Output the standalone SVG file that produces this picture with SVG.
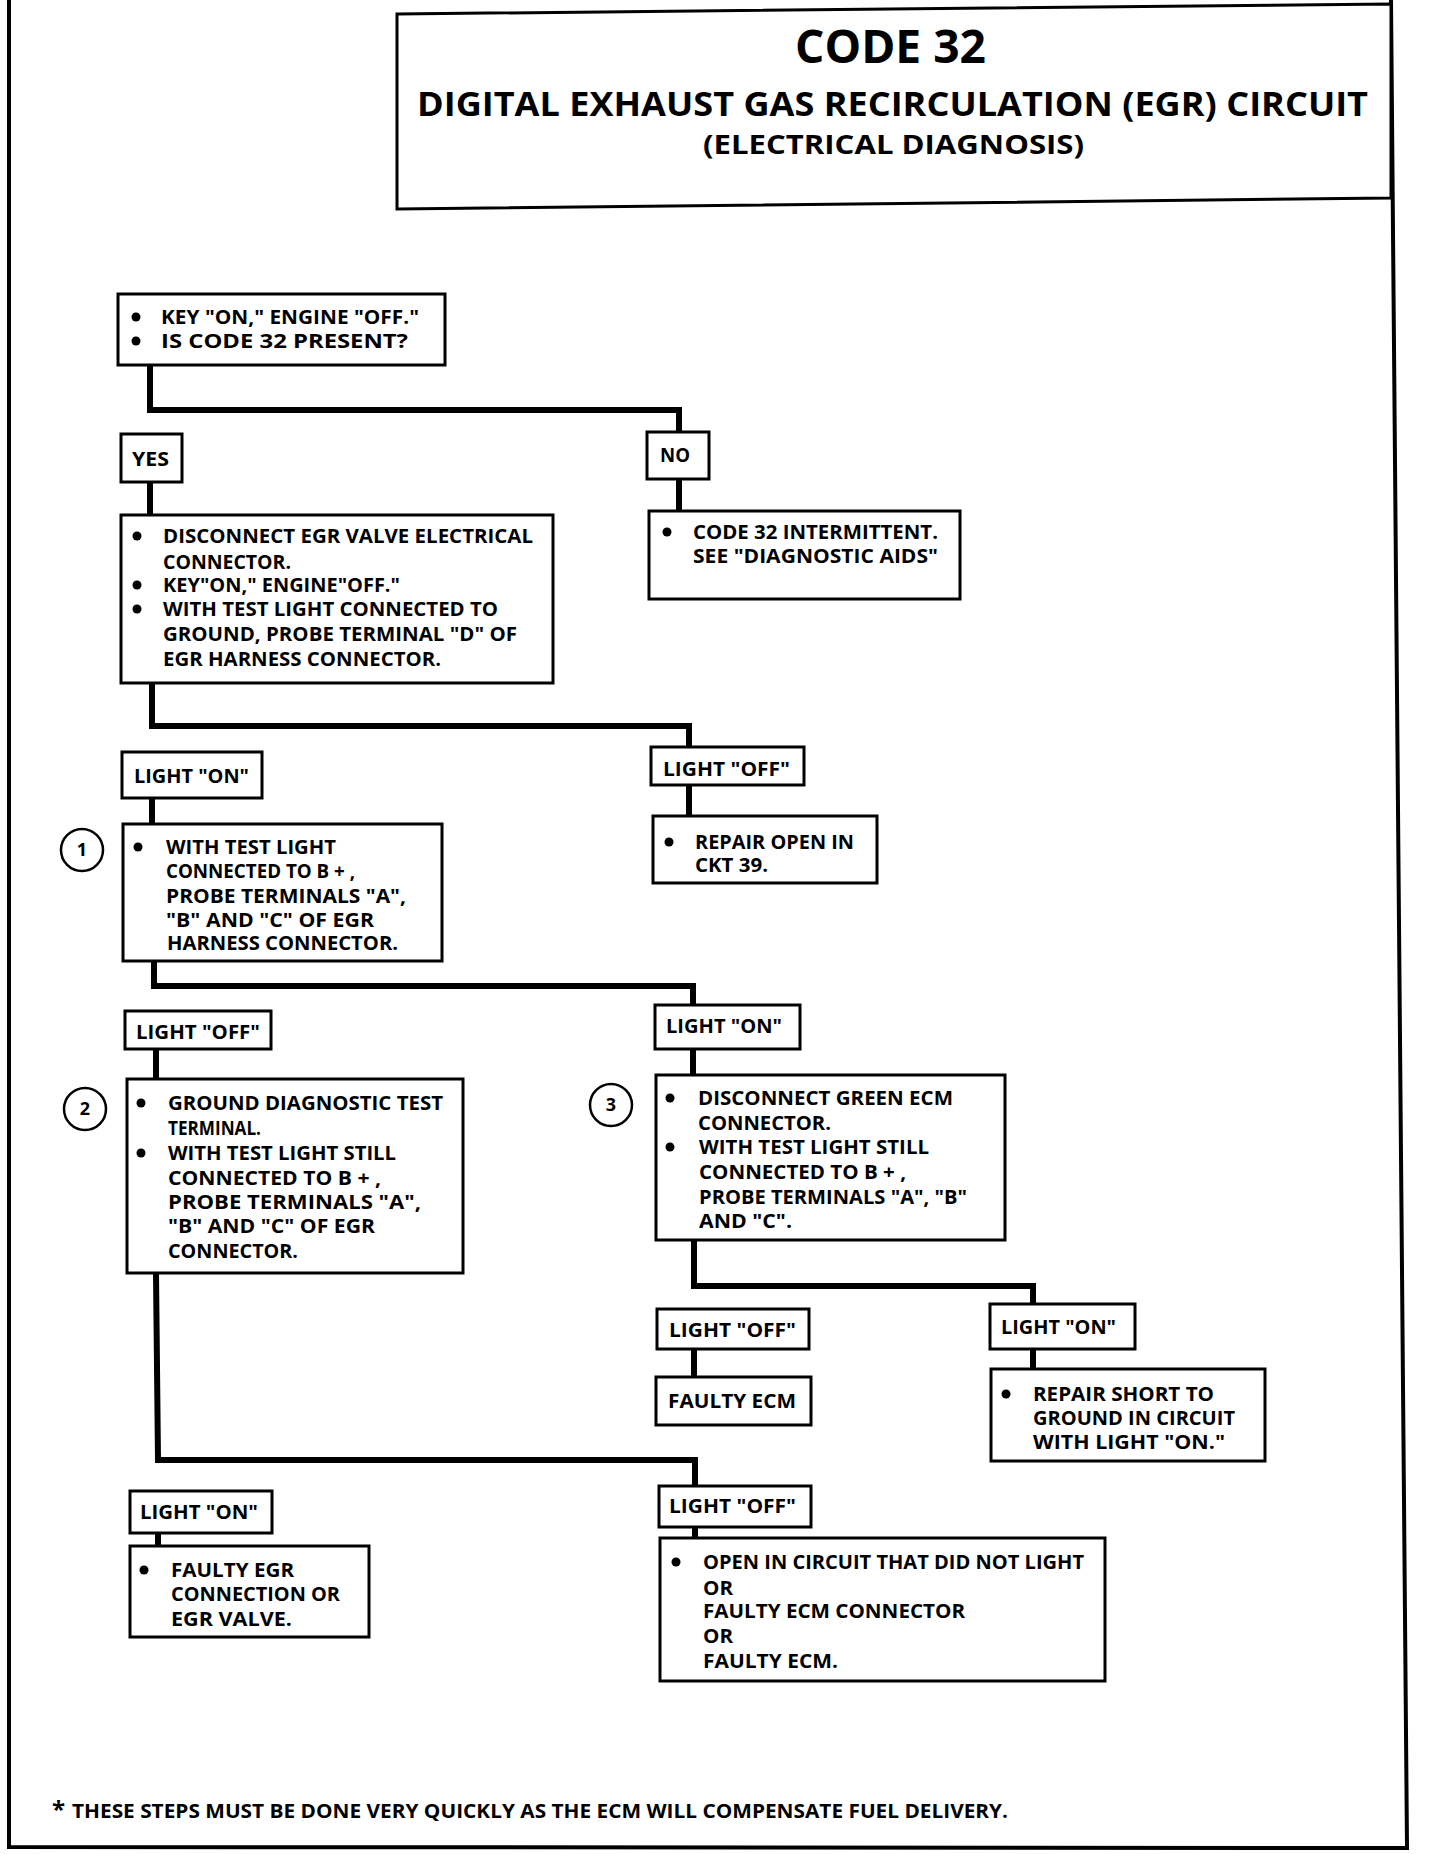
<svg xmlns="http://www.w3.org/2000/svg" width="1440" height="1854" viewBox="0 0 1440 1854">
<style>
  .box{fill:#fff;stroke:#000;stroke-width:3}
  .wire{fill:none;stroke:#000;stroke-width:6;stroke-linecap:square}
  .t{font-family:"Open Sans","Liberation Sans",sans-serif;font-weight:700;font-size:19px;fill:#000}
  .num{font-family:"Open Sans","Liberation Sans",sans-serif;font-weight:700;font-size:18px;fill:#000;text-anchor:middle}
  .ttl{font-family:"Open Sans","Liberation Sans",sans-serif;font-weight:700;fill:#000}
  .ring{fill:#fff;stroke:#000;stroke-width:2.5}
</style>
<defs>
  <circle id="dot" r="4.5" fill="#000"/>
</defs>
<rect x="0" y="0" width="1440" height="1854" fill="#fff"/>

<g id="frame">
  <path d="M9 0 L9 1847 L1407 1848 L1391 0" fill="none" stroke="#000" stroke-width="4"/>
</g>

<g id="title">
  <polygon points="397,14 1391,4 1391,198 397,209" fill="#fff" stroke="#000" stroke-width="3"/>
  <text class="ttl" x="795" y="63" font-size="46" textLength="191" lengthAdjust="spacingAndGlyphs">CODE 32</text>
  <text class="ttl" x="417" y="116" font-size="34" textLength="951" lengthAdjust="spacingAndGlyphs">DIGITAL EXHAUST GAS RECIRCULATION (EGR) CIRCUIT</text>
  <text class="ttl" x="703" y="154" font-size="26" textLength="381" lengthAdjust="spacingAndGlyphs">(ELECTRICAL DIAGNOSIS)</text>
</g>

<g id="connectors">
  <path class="wire" d="M150 365 V410 H679 V432"/>
  <path class="wire" d="M150 482 V515"/>
  <path class="wire" d="M679 479 V511"/>
  <path class="wire" d="M152 683 V726 H689 V747"/>
  <path class="wire" d="M689 785 V816"/>
  <path class="wire" d="M152 798 V824"/>
  <path class="wire" d="M154 961 V986 H693 V1005"/>
  <path class="wire" d="M156 1049 V1079"/>
  <path class="wire" d="M693 1049 V1075"/>
  <path class="wire" d="M694 1240 V1286 H1033 V1304"/>
  <path class="wire" d="M694 1349 V1377"/>
  <path class="wire" d="M1033 1349 V1369"/>
  <path class="wire" d="M156 1273 L158 1460 H695 V1486"/>
  <path class="wire" d="M158 1533 V1546"/>
  <path class="wire" d="M695 1527 V1538"/>
</g>

<g id="start">
  <rect class="box" x="118" y="294" width="327" height="71"/>
  <use href="#dot" x="136" y="317"/>
  <text class="t" x="161" y="324" textLength="258" lengthAdjust="spacingAndGlyphs">KEY "ON," ENGINE "OFF."</text>
  <use href="#dot" x="136" y="341"/>
  <text class="t" x="161" y="348" textLength="247" lengthAdjust="spacingAndGlyphs">IS CODE 32 PRESENT?</text>
</g>

<g id="yes">
  <rect class="box" x="121" y="434" width="61" height="48"/>
  <text class="t" x="132" y="466" textLength="37" lengthAdjust="spacingAndGlyphs">YES</text>
</g>

<g id="no">
  <rect class="box" x="647" y="432" width="62" height="47"/>
  <text class="t" x="660" y="462" textLength="30" lengthAdjust="spacingAndGlyphs">NO</text>
</g>

<g id="disconnect-egr">
  <rect class="box" x="121" y="515" width="432" height="168"/>
  <use href="#dot" x="137" y="536"/>
  <text class="t" x="163" y="543" textLength="370" lengthAdjust="spacingAndGlyphs">DISCONNECT EGR VALVE ELECTRICAL</text>
  <text class="t" x="163" y="569" textLength="128" lengthAdjust="spacingAndGlyphs">CONNECTOR.</text>
  <use href="#dot" x="137" y="585"/>
  <text class="t" x="163" y="592" textLength="237" lengthAdjust="spacingAndGlyphs">KEY"ON," ENGINE"OFF."</text>
  <use href="#dot" x="137" y="609"/>
  <text class="t" x="163" y="616" textLength="335" lengthAdjust="spacingAndGlyphs">WITH TEST LIGHT CONNECTED TO</text>
  <text class="t" x="163" y="641" textLength="354" lengthAdjust="spacingAndGlyphs">GROUND, PROBE TERMINAL "D" OF</text>
  <text class="t" x="163" y="666" textLength="278" lengthAdjust="spacingAndGlyphs">EGR HARNESS CONNECTOR.</text>
</g>

<g id="intermittent">
  <rect class="box" x="649" y="511" width="311" height="88"/>
  <use href="#dot" x="667" y="532"/>
  <text class="t" x="693" y="539" textLength="245" lengthAdjust="spacingAndGlyphs">CODE 32 INTERMITTENT.</text>
  <text class="t" x="693" y="563" textLength="245" lengthAdjust="spacingAndGlyphs">SEE "DIAGNOSTIC AIDS"</text>
</g>

<g id="light-on-1">
  <rect class="box" x="122" y="752" width="140" height="46"/>
  <text class="t" x="134" y="783" textLength="115" lengthAdjust="spacingAndGlyphs">LIGHT "ON"</text>
</g>

<g id="light-off-1">
  <rect class="box" x="651" y="747" width="153" height="38"/>
  <text class="t" x="663" y="776" textLength="127" lengthAdjust="spacingAndGlyphs">LIGHT "OFF"</text>
</g>

<g id="repair-open">
  <rect class="box" x="653" y="816" width="224" height="67"/>
  <use href="#dot" x="669" y="842"/>
  <text class="t" x="695" y="849" textLength="159" lengthAdjust="spacingAndGlyphs">REPAIR OPEN IN</text>
  <text class="t" x="695" y="872" textLength="73" lengthAdjust="spacingAndGlyphs">CKT 39.</text>
</g>

<g id="step1">
  <circle class="ring" cx="82" cy="850" r="21"/>
  <text class="num" x="82" y="856">1</text>
  <rect class="box" x="123" y="824" width="319" height="137"/>
  <use href="#dot" x="138" y="847"/>
  <text class="t" x="166" y="854" textLength="170" lengthAdjust="spacingAndGlyphs">WITH TEST LIGHT</text>
  <text class="t" x="166" y="878" textLength="189" lengthAdjust="spacingAndGlyphs">CONNECTED TO B + ,</text>
  <text class="t" x="166" y="903" textLength="240" lengthAdjust="spacingAndGlyphs">PROBE TERMINALS "A",</text>
  <text class="t" x="166" y="927" textLength="208" lengthAdjust="spacingAndGlyphs">"B" AND "C" OF EGR</text>
  <text class="t" x="167" y="950" textLength="231" lengthAdjust="spacingAndGlyphs">HARNESS CONNECTOR.</text>
</g>

<g id="light-off-2">
  <rect class="box" x="125" y="1011" width="146" height="38"/>
  <text class="t" x="136" y="1039" textLength="124" lengthAdjust="spacingAndGlyphs">LIGHT "OFF"</text>
</g>

<g id="light-on-2">
  <rect class="box" x="655" y="1005" width="145" height="44"/>
  <text class="t" x="666" y="1033" textLength="116" lengthAdjust="spacingAndGlyphs">LIGHT "ON"</text>
</g>

<g id="step2">
  <circle class="ring" cx="85" cy="1109" r="21"/>
  <text class="num" x="85" y="1115">2</text>
  <rect class="box" x="127" y="1079" width="336" height="194"/>
  <use href="#dot" x="141" y="1103"/>
  <text class="t" x="168" y="1110" textLength="275" lengthAdjust="spacingAndGlyphs">GROUND DIAGNOSTIC TEST</text>
  <text class="t" x="168" y="1135" textLength="93" lengthAdjust="spacingAndGlyphs">TERMINAL.</text>
  <use href="#dot" x="141" y="1153"/>
  <text class="t" x="168" y="1160" textLength="228" lengthAdjust="spacingAndGlyphs">WITH TEST LIGHT STILL</text>
  <text class="t" x="168" y="1185" textLength="213" lengthAdjust="spacingAndGlyphs">CONNECTED TO B + ,</text>
  <text class="t" x="168" y="1209" textLength="253" lengthAdjust="spacingAndGlyphs">PROBE TERMINALS "A",</text>
  <text class="t" x="168" y="1233" textLength="207" lengthAdjust="spacingAndGlyphs">"B" AND "C" OF EGR</text>
  <text class="t" x="168" y="1258" textLength="130" lengthAdjust="spacingAndGlyphs">CONNECTOR.</text>
</g>

<g id="step3">
  <circle class="ring" cx="611" cy="1105" r="21"/>
  <text class="num" x="611" y="1111">3</text>
  <rect class="box" x="656" y="1075" width="349" height="165"/>
  <use href="#dot" x="670" y="1098"/>
  <text class="t" x="698" y="1105" textLength="255" lengthAdjust="spacingAndGlyphs">DISCONNECT GREEN ECM</text>
  <text class="t" x="698" y="1130" textLength="133" lengthAdjust="spacingAndGlyphs">CONNECTOR.</text>
  <use href="#dot" x="670" y="1147"/>
  <text class="t" x="699" y="1154" textLength="230" lengthAdjust="spacingAndGlyphs">WITH TEST LIGHT STILL</text>
  <text class="t" x="699" y="1179" textLength="207" lengthAdjust="spacingAndGlyphs">CONNECTED TO B + ,</text>
  <text class="t" x="699" y="1204" textLength="268" lengthAdjust="spacingAndGlyphs">PROBE TERMINALS "A", "B"</text>
  <text class="t" x="699" y="1228" textLength="93" lengthAdjust="spacingAndGlyphs">AND "C".</text>
</g>

<g id="light-off-3">
  <rect class="box" x="657" y="1309" width="152" height="40"/>
  <text class="t" x="669" y="1337" textLength="127" lengthAdjust="spacingAndGlyphs">LIGHT "OFF"</text>
</g>

<g id="faulty-ecm">
  <rect class="box" x="656" y="1377" width="155" height="48"/>
  <text class="t" x="668" y="1408" textLength="128" lengthAdjust="spacingAndGlyphs">FAULTY ECM</text>
</g>

<g id="light-on-3">
  <rect class="box" x="990" y="1304" width="145" height="45"/>
  <text class="t" x="1001" y="1334" textLength="115" lengthAdjust="spacingAndGlyphs">LIGHT "ON"</text>
</g>

<g id="repair-short">
  <rect class="box" x="991" y="1369" width="274" height="92"/>
  <use href="#dot" x="1006" y="1394"/>
  <text class="t" x="1033" y="1401" textLength="181" lengthAdjust="spacingAndGlyphs">REPAIR SHORT TO</text>
  <text class="t" x="1033" y="1425" textLength="202" lengthAdjust="spacingAndGlyphs">GROUND IN CIRCUIT</text>
  <text class="t" x="1033" y="1449" textLength="192" lengthAdjust="spacingAndGlyphs">WITH LIGHT "ON."</text>
</g>

<g id="light-on-4">
  <rect class="box" x="130" y="1491" width="142" height="42"/>
  <text class="t" x="140" y="1519" textLength="118" lengthAdjust="spacingAndGlyphs">LIGHT "ON"</text>
</g>

<g id="faulty-egr">
  <rect class="box" x="130" y="1546" width="239" height="91"/>
  <use href="#dot" x="144" y="1570"/>
  <text class="t" x="171" y="1577" textLength="123" lengthAdjust="spacingAndGlyphs">FAULTY EGR</text>
  <text class="t" x="171" y="1601" textLength="169" lengthAdjust="spacingAndGlyphs">CONNECTION OR</text>
  <text class="t" x="171" y="1626" textLength="121" lengthAdjust="spacingAndGlyphs">EGR VALVE.</text>
</g>

<g id="light-off-4">
  <rect class="box" x="659" y="1486" width="152" height="41"/>
  <text class="t" x="669" y="1513" textLength="127" lengthAdjust="spacingAndGlyphs">LIGHT "OFF"</text>
</g>

<g id="open-circuit">
  <rect class="box" x="660" y="1538" width="445" height="143"/>
  <use href="#dot" x="676" y="1562"/>
  <text class="t" x="703" y="1569" textLength="381" lengthAdjust="spacingAndGlyphs">OPEN IN CIRCUIT THAT DID NOT LIGHT</text>
  <text class="t" x="703" y="1595" textLength="30" lengthAdjust="spacingAndGlyphs">OR</text>
  <text class="t" x="703" y="1618" textLength="262" lengthAdjust="spacingAndGlyphs">FAULTY ECM CONNECTOR</text>
  <text class="t" x="703" y="1643" textLength="30" lengthAdjust="spacingAndGlyphs">OR</text>
  <text class="t" x="703" y="1668" textLength="135" lengthAdjust="spacingAndGlyphs">FAULTY ECM.</text>
</g>

<g id="footnote">
  <text class="ttl" x="52" y="1818" font-size="24">*</text>
  <text class="ttl" x="72" y="1818" font-size="19" textLength="936" lengthAdjust="spacingAndGlyphs">THESE STEPS MUST BE DONE  VERY QUICKLY AS THE ECM WILL COMPENSATE FUEL DELIVERY.</text>
</g>
</svg>
